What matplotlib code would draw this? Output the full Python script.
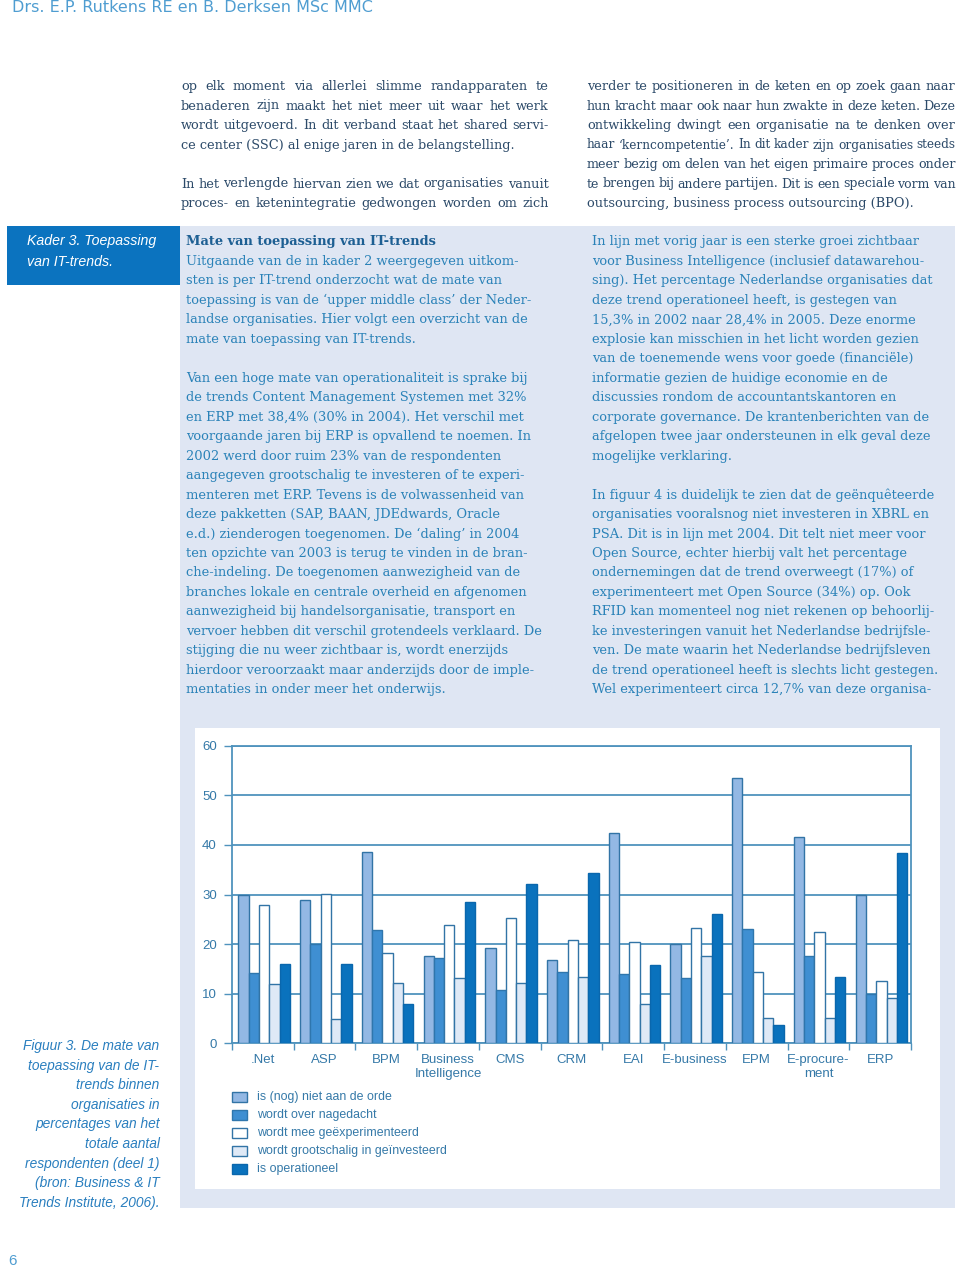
import matplotlib
matplotlib.use('Agg')
import matplotlib.pyplot as plt
from matplotlib.patches import Rectangle
import numpy as np

plt.rcParams['font.family'] = ['Liberation Sans', 'DejaVu Sans']

W, H = 960, 1271

# ---------------- chart data ----------------
categories = ['.Net', 'ASP', 'BPM', 'Business\nIntelligence', 'CMS', 'CRM', 'EAI',
              'E-business', 'EPM', 'E-procure-\nment', 'ERP']
niet_aan_de_orde = [30.0, 28.9, 38.6, 17.7, 19.2, 16.8, 42.3, 20.0, 53.4, 41.5, 30.0]
over_nagedacht = [14.1, 20.0, 22.8, 17.1, 10.8, 14.3, 13.9, 13.2, 23.1, 17.6, 10.0]
geexperimenteerd = [27.9, 30.2, 18.3, 23.9, 25.3, 20.8, 20.4, 23.3, 14.3, 22.4, 12.6]
grootschalig = [11.9, 5.0, 12.1, 13.1, 12.2, 13.4, 7.9, 17.6, 5.1, 5.1, 9.1]
operationeel = [16.0, 16.0, 8.0, 28.4, 32.1, 34.4, 15.8, 26.1, 3.6, 13.4, 38.4]
series_labels = ['is (nog) niet aan de orde', 'wordt over nagedacht',
                 'wordt mee geëxperimenteerd', 'wordt grootschalig in geïnvesteerd',
                 'is operationeel']
y_ticks = [0, 10, 20, 30, 40, 50, 60]

# ---------------- page text ----------------
header = 'Drs. E.P. Rutkens RE en B. Derksen MSc MMC'
page_number = '6'
top_left = [
    ('op elk moment via allerlei slimme randapparaten te', True),
    ('benaderen zijn maakt het niet meer uit waar het werk', True),
    ('wordt uitgevoerd. In dit verband staat het shared servi-', True),
    ('ce center (SSC) al enige jaren in de belangstelling.', False),
    ('', False),
    ('In het verlengde hiervan zien we dat organisaties vanuit', True),
    ('proces- en ketenintegratie gedwongen worden om zich', True),
]
top_right = [
    ('verder te positioneren in de keten en op zoek gaan naar', True),
    ('hun kracht maar ook naar hun zwakte in deze keten. Deze', True),
    ('ontwikkeling dwingt een organisatie na te denken over', True),
    ('haar \u2018kerncompetentie\u2019. In dit kader zijn organisaties steeds', True),
    ('meer bezig om delen van het eigen primaire proces onder', True),
    ('te brengen bij andere partijen. Dit is een speciale vorm van', True),
    ('outsourcing, business process outsourcing (BPO).', False),
]
kader_title = 'Mate van toepassing van IT-trends'
kader_left = [
    'Uitgaande van de in kader 2 weergegeven uitkom-',
    'sten is per IT-trend onderzocht wat de mate van',
    'toepassing is van de \u2018upper middle class\u2019 der Neder-',
    'landse organisaties. Hier volgt een overzicht van de',
    'mate van toepassing van IT-trends.',
    '',
    'Van een hoge mate van operationaliteit is sprake bij',
    'de trends Content Management Systemen met 32%',
    'en ERP met 38,4% (30% in 2004). Het verschil met',
    'voorgaande jaren bij ERP is opvallend te noemen. In',
    '2002 werd door ruim 23% van de respondenten',
    'aangegeven grootschalig te investeren of te experi-',
    'menteren met ERP. Tevens is de volwassenheid van',
    'deze pakketten (SAP, BAAN, JDEdwards, Oracle',
    'e.d.) zienderogen toegenomen. De \u2018daling\u2019 in 2004',
    'ten opzichte van 2003 is terug te vinden in de bran-',
    'che-indeling. De toegenomen aanwezigheid van de',
    'branches lokale en centrale overheid en afgenomen',
    'aanwezigheid bij handelsorganisatie, transport en',
    'vervoer hebben dit verschil grotendeels verklaard. De',
    'stijging die nu weer zichtbaar is, wordt enerzijds',
    'hierdoor veroorzaakt maar anderzijds door de imple-',
    'mentaties in onder meer het onderwijs.',
]
kader_right = [
    'In lijn met vorig jaar is een sterke groei zichtbaar',
    'voor Business Intelligence (inclusief datawarehou-',
    'sing). Het percentage Nederlandse organisaties dat',
    'deze trend operationeel heeft, is gestegen van',
    '15,3% in 2002 naar 28,4% in 2005. Deze enorme',
    'explosie kan misschien in het licht worden gezien',
    'van de toenemende wens voor goede (financiële)',
    'informatie gezien de huidige economie en de',
    'discussies rondom de accountantskantoren en',
    'corporate governance. De krantenberichten van de',
    'afgelopen twee jaar ondersteunen in elk geval deze',
    'mogelijke verklaring.',
    '',
    'In figuur 4 is duidelijk te zien dat de geënquêteerde',
    'organisaties vooralsnog niet investeren in XBRL en',
    'PSA. Dit is in lijn met 2004. Dit telt niet meer voor',
    'Open Source, echter hierbij valt het percentage',
    'ondernemingen dat de trend overweegt (17%) of',
    'experimenteert met Open Source (34%) op. Ook',
    'RFID kan momenteel nog niet rekenen op behoorlij-',
    'ke investeringen vanuit het Nederlandse bedrijfsle-',
    'ven. De mate waarin het Nederlandse bedrijfsleven',
    'de trend operationeel heeft is slechts licht gestegen.',
    'Wel experimenteert circa 12,7% van deze organisa-',
]
kader_label = ['Kader 3. Toepassing', 'van IT-trends.']
caption = ['Figuur 3. De mate van', 'toepassing van de IT-', 'trends binnen',
           'organisaties in', 'percentages van het', 'totale aantal',
           'respondenten (deel 1)', '(bron: Business & IT', 'Trends Institute, 2006).']

# ---------------- styles ----------------
panel_c = '#dfe6f3'
kader_box_c = '#0b73bf'
body_c = '#2c4a69'
kader_txt_c = '#2a82b8'
kader_head_c = '#1d5f93'
light_blue = '#4f9dd1'
caption_c = '#2a7fbf'
grid_c = '#4f93bd'
lab_c = '#3579a8'
bar_fc = ['#93b8e4', '#3f8fd2', '#ffffff', '#dfe9f6', '#0a72bd']
bar_ec = ['#3274a6', '#2f76ad', '#3274a6', '#3274a6', '#0a67ad']
SERIF = ['DejaVu Serif']

fig = plt.figure(figsize=(W / 100, H / 100), dpi=100)
fig.patch.set_facecolor('white')
renderer = fig.canvas.get_renderer()


def px(x):
    return x / W


def py(y):
    return 1 - y / H


def rect(x0, y0, x1, y1, color, z=-5):
    fig.add_artist(Rectangle((px(x0), py(y1)), (x1 - x0) / W, (y1 - y0) / H,
                             transform=fig.transFigure, facecolor=color,
                             edgecolor='none', zorder=z))


def text_width(s, size, **kw):
    t = fig.text(0, 0, s, fontsize=size, **kw)
    w = t.get_window_extent(renderer).width
    t.remove()
    return w


def fit_size(sample, target, **kw):
    return 10 * target / text_width(sample, 10, **kw)


def spread(items, x0, x1, yb, size, min_gap, **kw):
    """Place words so they span x0..x1 (justified line)."""
    ts, ws = [], []
    for w in items:
        t = fig.text(0, py(yb), w, fontsize=size, va='baseline', ha='left', **kw)
        ws.append(t.get_window_extent(renderer).width)
        ts.append(t)
    n = max(len(items) - 1, 1)
    gap = (x1 - x0 - sum(ws)) / n
    if gap < min_gap:
        scale = (x1 - x0 - min_gap * n) / sum(ws)
        for t in ts:
            t.set_fontsize(size * scale)
        ws = [t.get_window_extent(renderer).width for t in ts]
        gap = (x1 - x0 - sum(ws)) / n
    x = x0
    for t, w in zip(ts, ws):
        t.set_x(px(x))
        x += w + gap


def line(s, x0, x1, yb, justify, size, **kw):
    if not s:
        return
    if not justify:
        fig.text(px(x0), py(yb), s, fontsize=size, va='baseline', ha='left', **kw)
        return
    spread(s.split(' '), x0, x1, yb, size, 3.0, **kw)


# backgrounds
rect(180, 226, 955, 1208, panel_c)
rect(7, 226, 180, 285, kader_box_c)
rect(195, 728, 940, 1189, 'white', z=-4)

# header / page number
hdr_size = fit_size(header, 360, family=['DejaVu Sans'])
fig.text(px(12), py(12.5), header, fontsize=hdr_size, family=['DejaVu Sans'],
         color=light_blue, va='baseline', ha='left')
fig.text(px(8), py(1261), page_number, color=light_blue, fontsize=11, va='center', ha='left')

# top text
top_size = fit_size('ce center (SSC) al enige jaren in de belangstelling.', 334, family=SERIF)
for i, (s, j) in enumerate(top_left):
    line(s, 181, 548.5, 90 + 19.5 * i, j, top_size, family=SERIF, color=body_c)
for i, (s, j) in enumerate(top_right):
    line(s, 587, 955.5, 90 + 19.5 * i, j, top_size, family=SERIF, color=body_c)

# kader text
k_size = fit_size(kader_left[0], 336, family=SERIF)
fig.text(px(186), py(245.5), kader_title, fontsize=k_size, family=SERIF,
         weight='bold', color=kader_head_c, va='baseline')
for i, s in enumerate(kader_left):
    line(s, 186, 560, 245.5 + 19.47 * (i + 1), False, k_size, family=SERIF, color=kader_txt_c)
for i, s in enumerate(kader_right):
    line(s, 592, 955, 245.5 + 19.47 * i, False, k_size, family=SERIF, color=kader_txt_c)

# kader label
kl_size = fit_size(kader_label[0], 130, style='italic')
for i, s in enumerate(kader_label):
    fig.text(px(27), py(241.5 + 20 * i), s, fontsize=kl_size, style='italic',
             color='white', va='center', ha='left')

# caption
cap_size = fit_size(caption[0], 137, style='italic')
for i, s in enumerate(caption):
    fig.text(px(159.5), py(1046 + 19.6 * i), s, fontsize=cap_size, style='italic',
             color=caption_c, va='center', ha='right')

# ---------------- chart ----------------
ax = fig.add_axes([px(232), py(1043.3), (911 - 232) / W, (1043.3 - 745.7) / H])
ax.set_facecolor('none')
x = np.arange(len(categories))
bw = 0.167
series = [niet_aan_de_orde, over_nagedacht, geexperimenteerd, grootschalig, operationeel]
for j, vals in enumerate(series):
    ax.bar(x + (j - 2) * bw + 0.02, vals, width=bw, color=bar_fc[j],
           edgecolor=bar_ec[j], linewidth=1.0, zorder=3)
ax.set_xlim(-0.5, len(categories) - 0.5)
ax.set_ylim(0, 60)
ax.set_yticks(y_ticks)
ax.yaxis.grid(True, color=grid_c, linewidth=1.3, zorder=0)
ax.set_axisbelow(True)
for sp in ax.spines.values():
    sp.set_color(grid_c)
    sp.set_linewidth(1.3)
ax.tick_params(axis='y', length=6, width=1, color=grid_c, labelcolor=lab_c,
               labelsize=9.5, pad=5)
ax.set_xticks(x)
ax.set_xticklabels(categories)
ax.tick_params(axis='x', which='major', length=0, pad=8, labelsize=9.5, labelcolor=lab_c)
ax.set_xticks(np.arange(-0.5, len(categories), 1), minor=True)
ax.tick_params(axis='x', which='minor', length=5, width=1, color=grid_c, direction='out')

# legend (manual)
leg_size = fit_size(series_labels[0], 135)
for j, lab in enumerate(series_labels):
    yc = 1097 + 18 * j
    fig.add_artist(Rectangle((px(232), py(yc + 5)), 15 / W, 10 / H,
                             transform=fig.transFigure, facecolor=bar_fc[j],
                             edgecolor=bar_ec[j], linewidth=1.0, zorder=4))
    fig.text(px(257), py(yc), lab, fontsize=leg_size, color=lab_c, va='center', ha='left')

fig.savefig('out.png', dpi=100, facecolor='white')
